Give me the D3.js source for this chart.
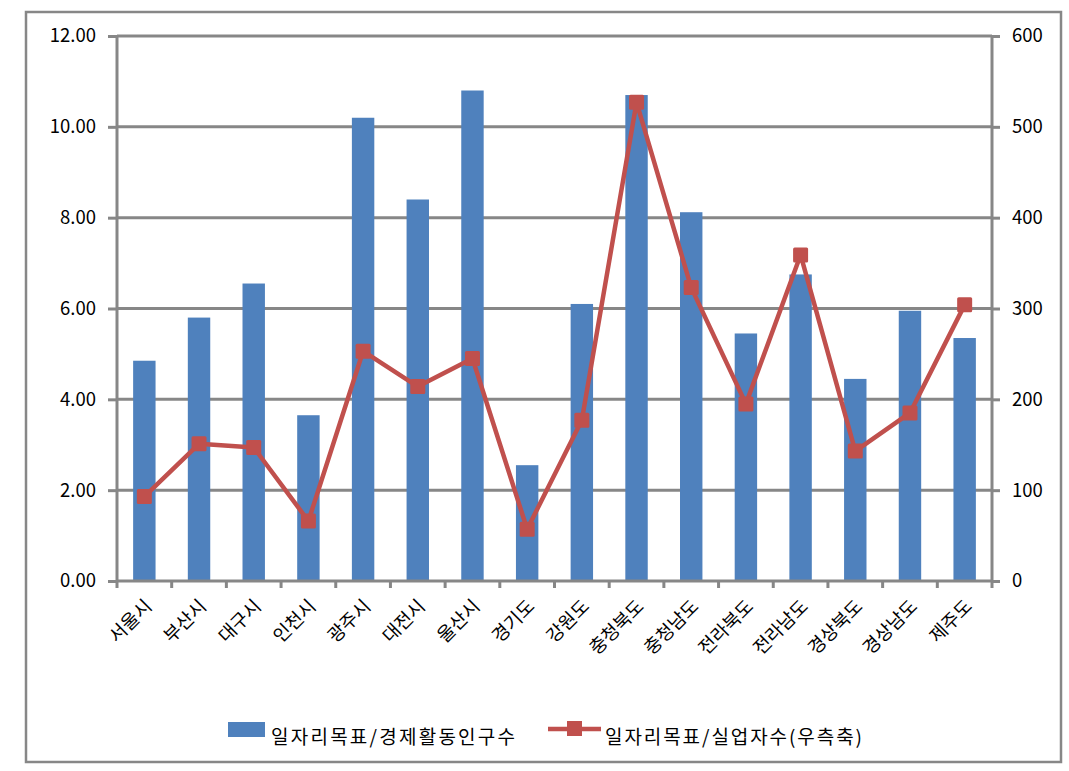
<!DOCTYPE html>
<html><head><meta charset="utf-8">
<script src="https://cdn.jsdelivr.net/npm/d3@7"></script>
<style>body{margin:0;background:#fff;} svg{display:block;}</style>
</head><body>
<svg id="c" width="1069" height="771"></svg>
<script>
const categories = ["서울시","부산시","대구시","인천시","광주시","대전시","울산시","경기도","강원도","충청북도","충청남도","전라북도","전라남도","경상북도","경상남도","제주도"];
const barValues = [4.85, 5.8, 6.55, 3.65, 10.2, 8.4, 10.8, 2.55, 6.1, 10.7, 8.12, 5.45, 6.75, 4.45, 5.95, 5.35];
const lineValues = [93, 151, 147, 66, 253, 214, 245, 57, 177, 527, 323, 195, 359, 143, 185, 304];
const leftTicks = [0, 2, 4, 6, 8, 10, 12];
const rightTicks = [0, 100, 200, 300, 400, 500, 600];
const barName = "일자리목표/경제활동인구수";
const lineName = "일자리목표/실업자수(우측축)";

const svg = d3.select("#c");
const font = "'Noto Sans CJK KR', 'DejaVu Sans', sans-serif";
const gray = "#878787";
const L = 117, R = 992, T = 36, B = 581;

svg.append("rect").attr("x", 26).attr("y", 12).attr("width", 1035).attr("height", 750)
  .attr("fill", "none").attr("stroke", gray).attr("stroke-width", 2.5);

const x = d3.scaleBand().domain(categories).range([L, R]).paddingInner(0).paddingOuter(0);
const yL = d3.scaleLinear().domain([0, 12]).range([B, T]);
const yR = d3.scaleLinear().domain([0, 600]).range([B, T]);

// gridlines
svg.append("g").selectAll("line").data(leftTicks.filter(d => d > 0)).join("line")
  .attr("x1", L).attr("x2", R).attr("y1", d => yL(d)).attr("y2", d => yL(d))
  .attr("stroke", gray).attr("stroke-width", 3);

// bars
const bw = x.bandwidth() * 0.41;
svg.append("g").selectAll("rect").data(barValues).join("rect")
  .attr("x", (d, i) => x(categories[i]) + x.bandwidth() / 2 - bw / 2)
  .attr("width", bw)
  .attr("y", d => yL(d))
  .attr("height", d => B - yL(d))
  .attr("fill", "#4F81BD");

// axes
const axL = svg.append("g").attr("transform", `translate(${L},0)`)
  .call(d3.axisLeft(yL).tickValues(leftTicks).tickFormat(d3.format(".2f")).tickSize(9).tickPadding(12));
const axR = svg.append("g").attr("transform", `translate(${R},0)`)
  .call(d3.axisRight(yR).tickValues(rightTicks).tickFormat(d3.format("d")).tickSize(8).tickPadding(12));
const axB = svg.append("g").attr("transform", `translate(0,${B})`)
  .call(d3.axisBottom(x).tickSize(0).tickFormat(""));
[axL, axR, axB].forEach(a => {
  a.selectAll("path.domain").attr("stroke", gray).attr("stroke-width", 3);
  a.selectAll(".tick line").attr("stroke", gray).attr("stroke-width", 3);
  a.selectAll("text").attr("font-family", font).attr("font-size", 18.5).attr("fill", "#000");
});
axL.select("path.domain").attr("d", `M-0,${T}V${B}`);
axR.select("path.domain").attr("d", `M0,${T}V${B}`);
axB.select("path.domain").attr("d", `M${L},0H${R}`);

// bottom category boundary ticks
const bounds = categories.map(c => x(c)).concat([R]);
svg.append("g").selectAll("line").data(bounds).join("line")
  .attr("x1", d => d).attr("x2", d => d).attr("y1", B).attr("y2", B + 7)
  .attr("stroke", gray).attr("stroke-width", 3);

// category labels
svg.append("g").selectAll("text").data(categories).join("text")
  .attr("transform", d => `translate(${x(d) + x.bandwidth() / 2 + 4},${B + 22}) rotate(-45)`)
  .attr("text-anchor", "end").attr("dy", "0.35em")
  .attr("font-family", font).attr("font-size", 18.5).attr("fill", "#000")
  .text(d => d);

// line
const lineColor = "#C0504D";
const lineGen = d3.line().x((d, i) => x(categories[i]) + x.bandwidth() / 2).y(d => yR(d));
svg.append("path").datum(lineValues).attr("d", lineGen)
  .attr("fill", "none").attr("stroke", lineColor).attr("stroke-width", 4.5).attr("stroke-linejoin", "round");
const ms = 15;
svg.append("g").selectAll("rect").data(lineValues).join("rect")
  .attr("x", (d, i) => x(categories[i]) + x.bandwidth() / 2 - ms / 2)
  .attr("y", d => yR(d) - ms / 2)
  .attr("width", ms).attr("height", ms).attr("rx", 1.5)
  .attr("fill", lineColor);

// legend
const lg = svg.append("g");
lg.append("rect").attr("x", 228).attr("y", 722).attr("width", 37).attr("height", 15).attr("fill", "#4F81BD");
lg.append("text").attr("x", 271).attr("y", 737).attr("dy", "0.35em")
  .attr("font-family", font).attr("font-size", 19)
  .attr("textLength", 244).attr("lengthAdjust", "spacing").text(barName);
lg.append("line").attr("x1", 548).attr("x2", 601).attr("y1", 729).attr("y2", 729)
  .attr("stroke", lineColor).attr("stroke-width", 4.5);
lg.append("rect").attr("x", 567).attr("y", 721).attr("width", 15).attr("height", 15).attr("fill", lineColor);
lg.append("text").attr("x", 605).attr("y", 737).attr("dy", "0.35em")
  .attr("font-family", font).attr("font-size", 19)
  .attr("textLength", 257).attr("lengthAdjust", "spacing").text(lineName);
</script>
</body></html>
